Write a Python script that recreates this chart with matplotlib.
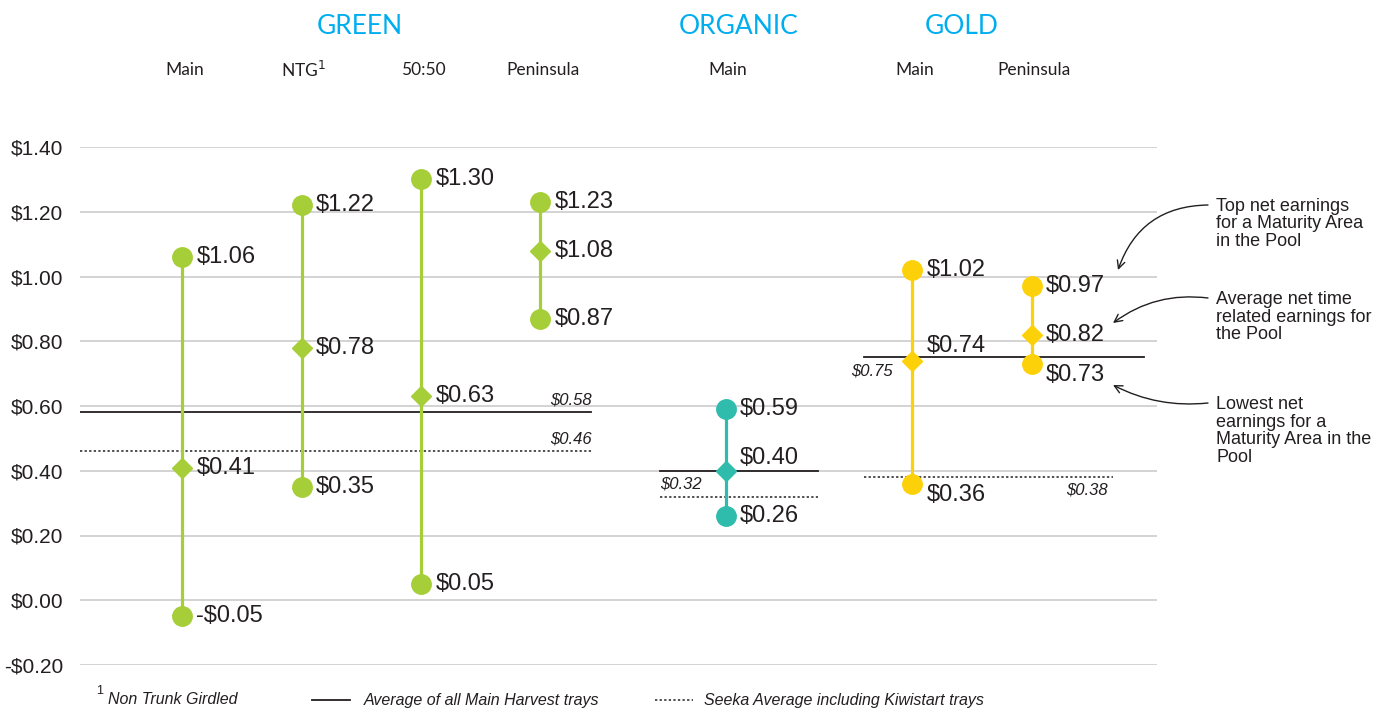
import matplotlib.pyplot as plt

# Данные: диапазон чистых доходов по зонам созревания
columns = ['Main', 'NTG', '50:50', 'Peninsula', 'Main', 'Main', 'Peninsula']
groups = ['GREEN', 'GREEN', 'GREEN', 'GREEN', 'ORGANIC', 'GOLD', 'GOLD']
top_vals = [1.06, 1.22, 1.30, 1.23, 0.59, 1.02, 0.97]
avg_vals = [0.41, 0.78, 0.63, 1.08, 0.40, 0.74, 0.82]
low_vals = [-0.05, 0.35, 0.05, 0.87, 0.26, 0.36, 0.73]

# средние по пулам: сплошная линия и пунктир (Seeka)
main_avg = {'GREEN': 0.58, 'ORGANIC': 0.40, 'GOLD': 0.75}
seeka_avg = {'GREEN': 0.46, 'ORGANIC': 0.32, 'GOLD': 0.38}

yticks = [-0.2, 0.0, 0.2, 0.4, 0.6, 0.8, 1.0, 1.2, 1.4]

colors = {'GREEN': '#a6ce39', 'ORGANIC': '#2fbcad', 'GOLD': '#fdd10a'}
TXT = '#231f20'
BLUE = '#00aeef'
xpos = [0, 1, 2, 3, 4.55, 6.11, 7.11]

plt.rcParams['font.family'] = ['Liberation Sans', 'DejaVu Sans']

fig = plt.figure(figsize=(13.84, 7.08), dpi=100)
ax = fig.add_axes([80 / 1384, 43 / 708, 1077 / 1384, 518 / 708])
ax.set_xlim(-0.854, 8.16)
ax.set_ylim(-0.2, 1.4)


def fmt(v):
    return ('-$%.2f' % abs(v)) if v < 0 else ('$%.2f' % v)


for y in yticks:
    ax.axhline(y, color='#c8c8c8', lw=1.1, zorder=0)
ax.set_yticks(yticks)
ax.set_yticklabels([fmt(v) for v in yticks], fontsize=15, color=TXT)
ax.tick_params(axis='y', length=0, pad=12)
ax.set_xticks([])
for s in ax.spines.values():
    s.set_visible(False)

# вертикальные отрезки с точками
for i, x in enumerate(xpos):
    c = colors[groups[i]]
    ax.plot([x, x], [low_vals[i], top_vals[i]], color=c, lw=2.3, zorder=2, clip_on=False)
    ax.plot([x, x], [low_vals[i], top_vals[i]], 'o', color=c, ms=14, zorder=3, clip_on=False)
    ax.plot(x, avg_vals[i], 'D', color=c, ms=10, zorder=3, clip_on=False)

# подписи значений (небольшие сдвиги как в оригинале)
dx = 0.12
shift = {(5, 'avg'): 0.045, (5, 'low'): -0.035, (4, 'avg'): 0.04, (6, 'low'): -0.035}
for i, x in enumerate(xpos):
    for key, vals in [('top', top_vals), ('avg', avg_vals), ('low', low_vals)]:
        v = vals[i]
        ax.text(x + dx, v + shift.get((i, key), 0), fmt(v), fontsize=17, color=TXT,
                va='center', ha='left')

# линии средних
spans = {'GREEN': (-0.854, 3.42), 'ORGANIC': (4.0, 5.32), 'GOLD': (5.71, 8.05)}
seeka_spans = {'GREEN': (-0.854, 3.43), 'ORGANIC': (4.0, 5.32), 'GOLD': (5.71, 7.79)}
for g in ['GREEN', 'ORGANIC', 'GOLD']:
    a, b = spans[g]
    ax.plot([a, b], [main_avg[g]] * 2, color=TXT, lw=1.3, zorder=1)
    a, b = seeka_spans[g]
    ax.plot([a, b], [seeka_avg[g]] * 2, color=TXT, lw=1.1, ls=(0, (1.5, 1.5)), zorder=1)

it = dict(fontsize=12, style='italic', color=TXT)
ax.text(3.43, main_avg['GREEN'] + 0.015, fmt(main_avg['GREEN']), ha='right', va='bottom', **it)
ax.text(3.43, seeka_avg['GREEN'] + 0.015, fmt(seeka_avg['GREEN']), ha='right', va='bottom', **it)
ax.text(4.0, seeka_avg['ORGANIC'] + 0.015, fmt(seeka_avg['ORGANIC']), ha='left', va='bottom', **it)
ax.text(5.95, main_avg['GOLD'] - 0.02, fmt(main_avg['GOLD']), ha='right', va='top', **it)
ax.text(7.75, seeka_avg['GOLD'] - 0.015, fmt(seeka_avg['GOLD']), ha='right', va='top', **it)


# заголовки групп и колонок
def px(x, y):
    return x / 1384, 1 - y / 708


for name, cx in [('GREEN', 360), ('ORGANIC', 739), ('GOLD', 962)]:
    fig.text(*px(cx, 26), name, fontsize=19, color=BLUE, ha='center', va='center',
             family=['Lato', 'DejaVu Sans'])
for i, x in enumerate(xpos):
    lbl = columns[i]
    if lbl == 'NTG':
        lbl = r'NTG$^{1}$'
    ax.text(x + 0.02, 1 + (147 - 70) / 518, lbl, transform=ax.get_xaxis_transform(),
            fontsize=12.5, color=TXT, ha='center', va='center', family=['Lato', 'DejaVu Sans'])

# пояснения справа со стрелками
notes = [
    ('Top net earnings\nfor a Maturity Area\nin the Pool', (1216, 224), (1118, 270), (1208, 205), 0.35),
    ('Average net time\nrelated earnings for\nthe Pool', (1216, 317), (1113, 323), (1208, 298), 0.2),
    ('Lowest net\nearnings for a\nMaturity Area in the\nPool', (1216, 431), (1113, 385), (1208, 403), -0.15),
]
for txt, tp, head, tail, rad in notes:
    fig.text(*px(*tp), txt, fontsize=13, color=TXT, ha='left', va='center', linespacing=1.05)
    ax.annotate('', xy=px(*head), xycoords='figure fraction', xytext=px(*tail),
                textcoords='figure fraction',
                arrowprops=dict(arrowstyle='->', color=TXT, lw=1.0, mutation_scale=14,
                                connectionstyle='arc3,rad=%s' % rad, shrinkA=0, shrinkB=0))

# легенда внизу
fig.text(*px(96, 697), '1', fontsize=9, color=TXT, ha='left', va='bottom')
fig.text(*px(108, 700), 'Non Trunk Girdled', fontsize=11.5, style='italic', color=TXT, va='center')
fig.add_artist(plt.Line2D([312 / 1384, 350 / 1384], [1 - 700 / 708] * 2, color=TXT, lw=1.3))
fig.text(*px(364, 700), 'Average of all Main Harvest trays', fontsize=11.5, style='italic',
         color=TXT, va='center')
fig.add_artist(plt.Line2D([655 / 1384, 693 / 1384], [1 - 700 / 708] * 2, color=TXT, lw=1.1,
                          ls=(0, (1.5, 1.5))))
fig.text(*px(704, 700), 'Seeka Average including Kiwistart trays', fontsize=11.5, style='italic',
         color=TXT, va='center')

plt.savefig('out.png', dpi=100)
